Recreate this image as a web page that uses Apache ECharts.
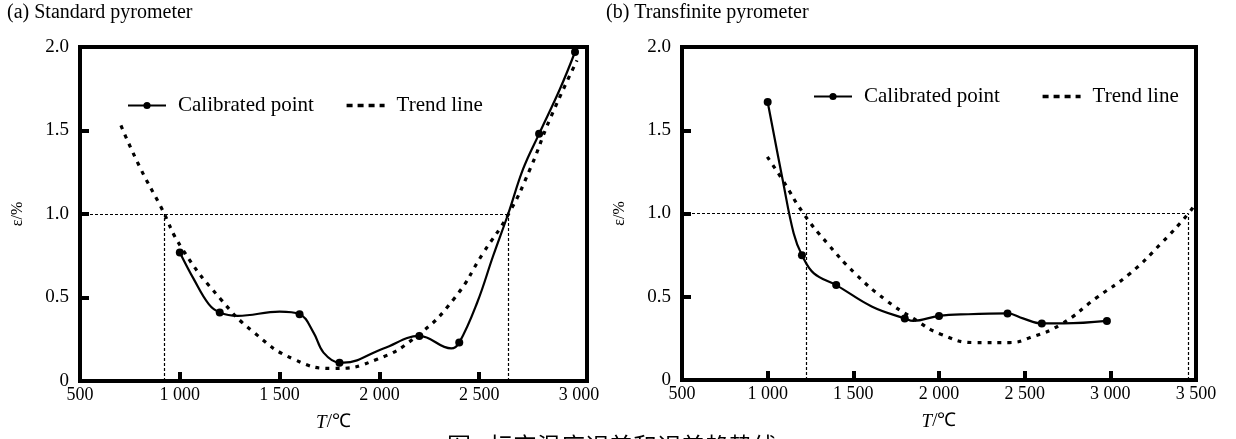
<!DOCTYPE html>
<html>
<head>
<meta charset="utf-8">
<script src="https://cdn.jsdelivr.net/npm/echarts@6/dist/echarts.min.js"></script>
<style>
  html, body { margin: 0; padding: 0; background: #fff; }
  #chart { width: 1236px; height: 439px; }
</style>
</head>
<body>
<div id="chart"></div>
<script>
// (a) standard pyrometer: calibrated points and curve shape
const leftPointT = [1000, 1200, 1600, 1800, 2200, 2400, 2800, 2980]
const leftPointE = [0.77, 0.41, 0.40, 0.11, 0.27, 0.23, 1.48, 1.97]
// extra vertices of the drawn curve between the points (no markers)
const leftCurveT = [1070, 1145, 1290, 1500, 1670, 1720, 1820, 2020, 2360, 2490, 2570, 2645, 2720, 2905]
const leftCurveE = [0.61, 0.46, 0.39, 0.415, 0.29, 0.17, 0.11, 0.195, 0.195, 0.47, 0.75, 1.0, 1.27, 1.75]
const leftTrendT = [705, 800, 902, 1013, 1205, 1372, 1572, 1772, 1988, 2188, 2372, 2522, 2647, 2755, 2855, 2990]
const leftTrendE = [1.53, 1.28, 1.05, 0.79, 0.49, 0.29, 0.13, 0.075, 0.13, 0.27, 0.49, 0.77, 1.0, 1.27, 1.57, 1.92]
const leftCrossT = [920, 2645]

// (b) transfinite pyrometer
const rightPointT = [1000, 1200, 1400, 1800, 2000, 2400, 2600, 2980]
const rightPointE = [1.67, 0.75, 0.57, 0.37, 0.385, 0.40, 0.34, 0.355]
const rightCurveT = [1088, 1152, 1270, 1610, 1850, 2170, 2490, 2730]
const rightCurveE = [1.20, 0.88, 0.64, 0.44, 0.355, 0.395, 0.37, 0.34]
const rightTrendT = [998, 1088, 1209, 1349, 1510, 1690, 1850, 2011, 2212, 2412, 2533, 2713, 2914, 3115, 3296, 3456, 3496]
const rightTrendE = [1.34, 1.20, 1.0, 0.82, 0.64, 0.48, 0.37, 0.275, 0.225, 0.225, 0.255, 0.335, 0.49, 0.64, 0.82, 1.0, 1.06]
const rightCrossT = [1225, 3455]

const yTicks = [0.5, 1.0, 1.5]
const yLabels = [0, 0.5, 1.0, 1.5, 2.0]
const leftXLabels = [500, 1000, 1500, 2000, 2500, 3000]
const rightXLabels = [500, 1000, 1500, 2000, 2500, 3000, 3500]

const serif = 'Liberation Serif'

// merge marked points with unmarked curve vertices, sorted by T
function curveData(pt, pe, ct, ce) {
  const rows = pt.map((t, i) => ({ value: [t, pe[i]], symbol: 'circle' }))
  ct.forEach((t, i) => rows.push({ value: [t, ce[i]], symbol: 'none' }))
  return rows.sort((a, b) => a.value[0] - b.value[0])
}

function fmtT(v) {
  return v >= 1000 ? String(v).replace(/(\d)(\d{3})$/, '$1 $2') : String(v)
}

function xAxisFor(idx, max, labels) {
  return {
    type: 'value', gridIndex: idx, min: 500, max: max, interval: 500,
    name: '{i|T}/℃', nameLocation: 'middle', nameGap: 32,
    nameTextStyle: { fontFamily: serif, fontSize: 19, color: '#000',
      rich: { i: { fontFamily: serif, fontStyle: 'italic', fontSize: 19, color: '#000' } } },
    axisLine: { show: false },
    axisTick: { show: true, inside: true, length: 9, lineStyle: { width: 4, color: '#000' },
      customValues: labels.slice(1, -1).filter(v => v < max) },
    axisLabel: { customValues: labels, formatter: fmtT, fontFamily: serif, fontSize: 18, color: '#000', margin: 5 },
    splitLine: { show: false }
  }
}

function yAxisFor(idx) {
  return {
    type: 'value', gridIndex: idx, min: 0, max: 2, interval: 0.5,
    name: 'ε/%', nameLocation: 'middle', nameGap: 54, nameRotate: 90,
    nameTextStyle: { fontFamily: serif, fontSize: 16, color: '#000' },
    axisLine: { show: false },
    axisTick: { show: true, inside: true, length: 9, lineStyle: { width: 4, color: '#000' }, customValues: yTicks },
    axisLabel: { customValues: yLabels, formatter: v => v === 0 ? '0' : v.toFixed(1),
      fontFamily: serif, fontSize: 19, color: '#000', margin: 11 },
    splitLine: { show: false }
  }
}

function refLines(crossT) {
  const ls = { type: [3, 2], width: 1.2, color: '#000' }
  return [
    [{ coord: [500, 1], lineStyle: ls }, { coord: [crossT[1], 1] }],
    [{ coord: [crossT[0], 0], lineStyle: ls }, { coord: [crossT[0], 1] }],
    [{ coord: [crossT[1], 0], lineStyle: ls }, { coord: [crossT[1], 1] }]
  ]
}

function seriesFor(idx, pt, pe, ct, ce, tt, te, crossT) {
  return [
    {
      name: 'Calibrated point', type: 'line', xAxisIndex: idx, yAxisIndex: idx,
      data: curveData(pt, pe, ct, ce), smooth: 0.4, symbol: 'circle', symbolSize: 8,
      lineStyle: { color: '#000', width: 2.2 }, itemStyle: { color: '#000' },
      z: 3, animation: false
    },
    {
      name: 'Trend line', type: 'line', xAxisIndex: idx, yAxisIndex: idx,
      data: tt.map((t, i) => [t, te[i]]), smooth: 0.5, showSymbol: false, symbol: 'none',
      lineStyle: { color: '#000', width: 3.2, type: [4, 6] }, itemStyle: { color: '#000' },
      markLine: { silent: true, symbol: 'none', label: { show: false }, animation: false, data: refLines(crossT) },
      z: 2, animation: false
    }
  ]
}

const chart = echarts.init(document.getElementById('chart'))

const legendItems = [
  { name: 'Calibrated point', itemStyle: { borderWidth: 0 } },
  { name: 'Trend line', itemStyle: { opacity: 0 }, lineStyle: { type: [6, 5], width: 3.4 } }
]

const legendBase = {
  orient: 'horizontal', itemWidth: 38, itemHeight: 9, data: legendItems,
  textStyle: { fontFamily: serif, fontSize: 21, color: '#000', padding: [0, 0, 0, 7] }
}

chart.setOption({
  backgroundColor: '#fff',
  animation: false,
  grid: [
    { left: 80, top: 47, width: 507, height: 334, show: true, borderWidth: 4, borderColor: '#000', backgroundColor: 'transparent' },
    { left: 682, top: 47, width: 514, height: 333, show: true, borderWidth: 4, borderColor: '#000', backgroundColor: 'transparent' }
  ],
  xAxis: [xAxisFor(0, 3040, leftXLabels), xAxisFor(1, 3500, rightXLabels)],
  yAxis: [yAxisFor(0), yAxisFor(1)],
  legend: [
    Object.assign({}, legendBase, { left: 122, top: 90, itemGap: 31 }),
    Object.assign({}, legendBase, { left: 808, top: 81, itemGap: 41 })
  ],
  graphic: [
    { type: 'text', left: 7, top: 3, style: { text: '(a) Standard pyrometer', font: '20px "Liberation Serif"', fill: '#000' } },
    { type: 'text', left: 606, top: 3, style: { text: '(b) Transfinite pyrometer', font: '20px "Liberation Serif"', fill: '#000' } },
    { type: 'text', left: 447, top: 434, style: { text: '图', font: '24px "Noto Sans CJK SC"', fill: '#000' } },
    { type: 'text', left: 489, top: 434, style: { text: '标定温度误差和误差趋势线', font: '24px "Noto Sans CJK SC"', fill: '#000' } }
  ],
  series: [
    ...seriesFor(0, leftPointT, leftPointE, leftCurveT, leftCurveE, leftTrendT, leftTrendE, leftCrossT),
    ...seriesFor(1, rightPointT, rightPointE, rightCurveT, rightCurveE, rightTrendT, rightTrendE, rightCrossT)
  ]
})
</script>
</body>
</html>
